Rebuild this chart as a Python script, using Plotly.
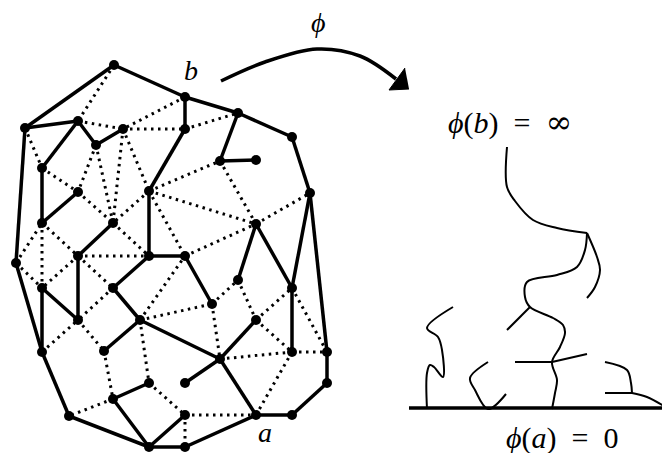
import plotly.graph_objects as go

# ---- node positions of the planar map (pixel coords) ----
nodes = {
    1: (114, 65), 2: (185, 97), 3: (238, 113), 4: (292, 137), 5: (25, 128),
    6: (78, 121), 7: (96, 145), 8: (123, 129), 9: (185, 129), 10: (42, 168),
    11: (78, 192), 12: (149, 191), 13: (220, 161), 14: (256, 160), 15: (310, 193),
    16: (42, 223), 17: (113, 223), 18: (16, 263), 19: (78, 256), 20: (149, 256),
    21: (185, 256), 22: (256, 224), 23: (42, 288), 24: (113, 288), 25: (238, 280),
    26: (212, 304), 27: (256, 320), 28: (292, 288), 29: (78, 320), 30: (140, 320),
    31: (104, 351), 32: (220, 359), 33: (185, 383), 34: (149, 383), 35: (42, 352),
    36: (113, 399), 37: (69, 416), 38: (149, 447), 39: (185, 415), 40: (185, 447),
    41: (256, 415), 42: (292, 415), 43: (327, 383), 44: (327, 352), 45: (292, 352),
}

solid_edges = [
    (1, 2), (2, 3), (3, 4), (4, 15), (15, 44), (44, 43), (43, 42), (42, 41),
    (41, 40), (40, 38), (38, 37), (37, 35), (35, 18), (18, 5), (5, 1),
    (5, 6), (6, 7), (7, 8), (6, 10), (10, 16), (16, 11), (2, 9), (9, 12),
    (12, 20), (20, 21), (21, 26), (20, 24), (24, 30), (30, 31), (30, 32),
    (32, 33), (32, 27), (32, 41), (3, 13), (13, 14), (17, 19), (19, 29),
    (29, 23), (23, 35), (22, 25), (22, 28), (28, 15), (28, 45), (36, 34),
    (36, 38), (39, 38),
]

dotted_edges = [
    (1, 6), (2, 8), (6, 8), (8, 9), (9, 3), (5, 10), (10, 11), (7, 11),
    (7, 17), (8, 17), (8, 12), (11, 17), (12, 17), (12, 13), (13, 22),
    (22, 15), (12, 22), (12, 21), (21, 22), (17, 20), (18, 16), (16, 23),
    (16, 19), (19, 20), (19, 23), (18, 23), (19, 24), (24, 29), (30, 21),
    (30, 26), (26, 25), (26, 32), (25, 27), (27, 28), (28, 44), (27, 45),
    (32, 45), (45, 44), (41, 45), (30, 34), (31, 36), (29, 31), (35, 29),
    (36, 37), (34, 39), (39, 40), (39, 41),
]

# ---- right-hand picture: curves (pixel coords) ----
trunk = [(507, 147), (507, 187), (515, 201), (533, 220), (557, 228), (587, 233)]
branch_r = [(587, 233), (597, 257), (600, 270), (595, 287), (587, 298)]
branch_main = [(587, 233), (585, 250), (577, 267), (557, 275), (527, 282),
               (525, 297), (530, 307), (553, 318), (563, 325), (565, 333),
               (560, 347), (552, 362), (557, 380), (555, 393), (552, 409)]
twig_a = [(530, 307), (507, 330)]
twig_b = [(552, 362), (587, 354)]
twig_c = [(552, 362), (515, 362)]
left_curve = [(427, 409), (427, 373), (430, 365), (434, 367), (443, 377),
              (442, 350), (438, 337), (427, 328), (453, 307)]
v_curve = [(488, 362), (470, 378), (475, 390), (488, 409), (506, 394)]
hook = [(605, 362), (627, 370), (631, 383), (632, 393)]
hook_bar = [(605, 393), (632, 393)]
hook_tail = [(632, 393), (647, 397), (667, 408)]
right_curves = [trunk, branch_r, branch_main, twig_a, twig_b, twig_c,
                left_curve, v_curve, hook, hook_bar, hook_tail]
spline_flags = [True, True, True, False, False, False, True, True, True, False, True]

baseline = [(409, 408), (668, 408)]
arrow_curve = [(221, 81), (265, 62), (317, 49), (360, 56), (396, 79)]
arrow_head = [(409, 89), (389, 90), (405, 68)]

fig = go.Figure()

def seg_xy(edges):
    xs, ys = [], []
    for a, b in edges:
        xs += [nodes[a][0], nodes[b][0], None]
        ys += [nodes[a][1], nodes[b][1], None]
    return xs, ys

dx, dy = seg_xy(dotted_edges)
fig.add_trace(go.Scatter(x=dx, y=dy, mode="lines",
                         line=dict(color="black", width=3, dash="2.5px,4.5px"),
                         hoverinfo="skip"))
sx, sy = seg_xy(solid_edges)
fig.add_trace(go.Scatter(x=sx, y=sy, mode="lines",
                         line=dict(color="black", width=3.5), hoverinfo="skip"))
fig.add_trace(go.Scatter(x=[p[0] for p in nodes.values()],
                         y=[p[1] for p in nodes.values()], mode="markers",
                         marker=dict(color="black", size=10), hoverinfo="skip"))

for pts, sp in zip(right_curves, spline_flags):
    fig.add_trace(go.Scatter(x=[p[0] for p in pts], y=[p[1] for p in pts],
                             mode="lines",
                             line=dict(color="black", width=2,
                                       shape="spline" if sp else "linear",
                                       smoothing=1.0),
                             hoverinfo="skip"))

fig.add_trace(go.Scatter(x=[p[0] for p in baseline], y=[p[1] for p in baseline],
                         mode="lines", line=dict(color="black", width=3.5),
                         hoverinfo="skip"))
fig.add_trace(go.Scatter(x=[p[0] for p in arrow_curve], y=[p[1] for p in arrow_curve],
                         mode="lines",
                         line=dict(color="black", width=3.5, shape="spline"),
                         hoverinfo="skip"))
fig.add_trace(go.Scatter(x=[p[0] for p in arrow_head], y=[p[1] for p in arrow_head],
                         mode="lines", fill="toself", fillcolor="black",
                         line=dict(color="black", width=1), hoverinfo="skip"))

font = "Liberation Serif, DejaVu Serif, serif"
inf = "<span style='font-family:DejaVu Serif;font-size:32px'>∞</span>"
labels = [
    (191, 70, "<i>b</i>", 28),
    (265, 432, "<i>a</i>", 28),
    (318, 22, "<i>ϕ</i>", 28),
    (510, 122, "<i>ϕ</i>(<i>b</i>)  =  " + inf, 30),
    (562, 438, "<i>ϕ</i>(<i>a</i>)  =  0", 30),
]
for x, y, t, s in labels:
    fig.add_annotation(x=x, y=y, text=t, showarrow=False,
                       font=dict(family=font, size=s, color="black"),
                       xanchor="center", yanchor="middle")

# the page body has an 8px margin: shift the axis window so that
# coordinates land on the same page pixels as in the reference
OFF = 8
fig.update_layout(
    width=670 - OFF, height=453 - OFF, margin=dict(l=0, r=0, t=0, b=0),
    paper_bgcolor="white", plot_bgcolor="white", showlegend=False,
    xaxis=dict(range=[OFF, 670], visible=False, fixedrange=True),
    yaxis=dict(range=[453, OFF], visible=False, fixedrange=True),
)
fig.write_html("out.html")
